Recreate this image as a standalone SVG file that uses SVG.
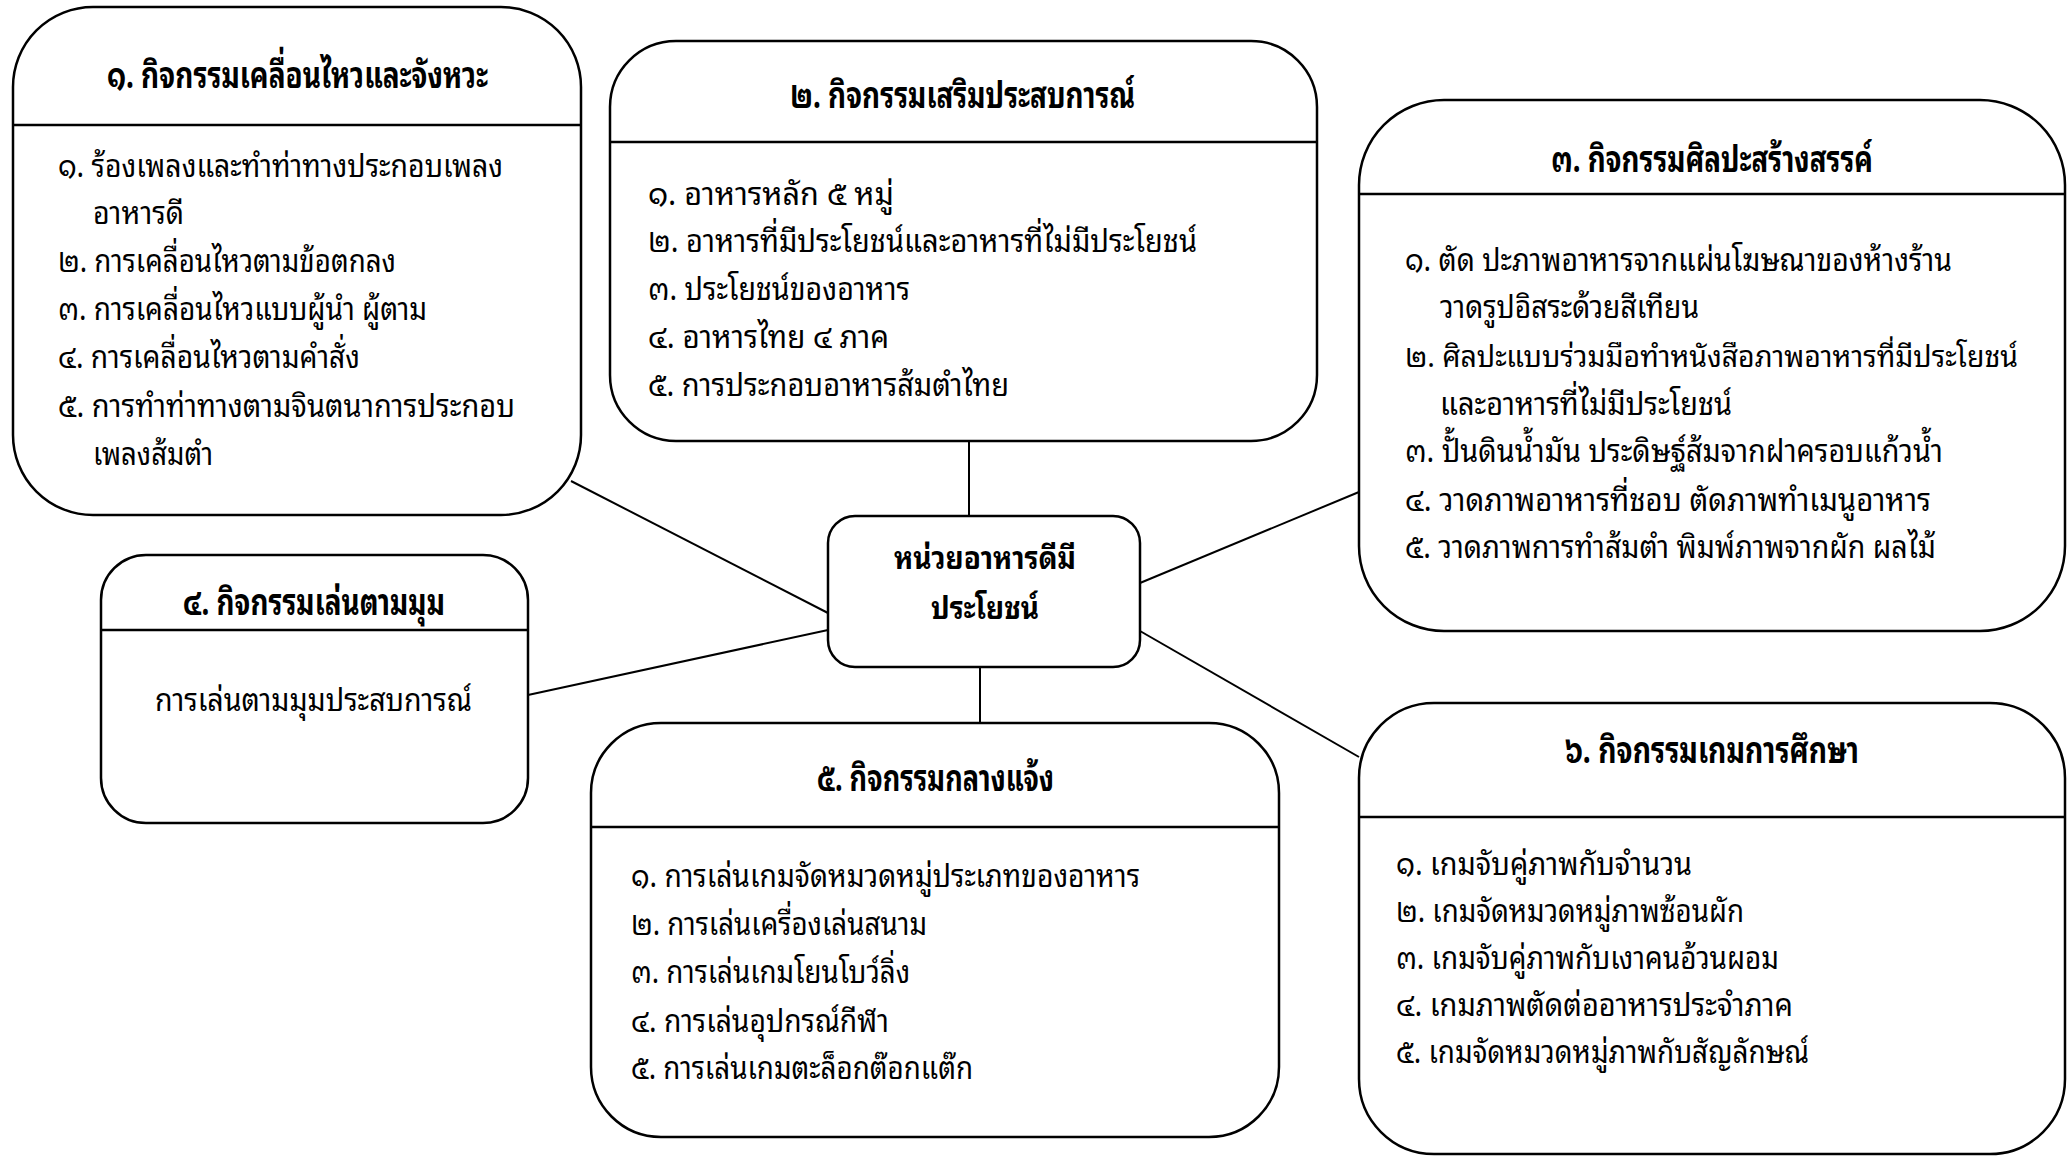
<svg xmlns="http://www.w3.org/2000/svg" width="2067" height="1156" viewBox="0 0 2067 1156">
<style>
.box{fill:#fff;stroke:#000;stroke-width:2.5}
.div{stroke:#000;stroke-width:2.5}
.con line{stroke:#000;stroke-width:2}
text{font-family:"Noto Sans Thai Looped","Noto Sans Thai","Loma","Garuda","Noto Sans",sans-serif;fill:#000}
.t{font-size:37px;font-weight:bold}
.b{font-size:32px}
.c{font-size:32px;font-weight:bold}
</style>
<rect width="2067" height="1156" fill="#fff"/>
<g id="connectors" class="con">
<line x1="571" y1="481" x2="828" y2="613"/>
<line x1="528" y1="695" x2="828" y2="630"/>
<line x1="969" y1="441" x2="969" y2="516"/>
<line x1="980" y1="667" x2="980" y2="723"/>
<line x1="1140" y1="583" x2="1359" y2="492"/>
<line x1="1140" y1="631" x2="1359" y2="757"/>
</g>
<g id="node1">
<rect class="box" x="13" y="7" width="568" height="508" rx="80"/>
<line class="div" x1="13" y1="125" x2="581" y2="125"/>
<text class="t" x="107" y="88" textLength="381" lengthAdjust="spacingAndGlyphs">๑. กิจกรรมเคลื่อนไหวและจังหวะ</text>
<text class="b" x="58" y="177" textLength="445" lengthAdjust="spacingAndGlyphs">๑. ร้องเพลงและทำท่าทางประกอบเพลง</text>
<text class="b" x="93" y="224" textLength="91" lengthAdjust="spacingAndGlyphs">อาหารดี</text>
<text class="b" x="58" y="272" textLength="338" lengthAdjust="spacingAndGlyphs">๒. การเคลื่อนไหวตามข้อตกลง</text>
<text class="b" x="58" y="320" textLength="369" lengthAdjust="spacingAndGlyphs">๓. การเคลื่อนไหวแบบผู้นำ ผู้ตาม</text>
<text class="b" x="58" y="368" textLength="302" lengthAdjust="spacingAndGlyphs">๔. การเคลื่อนไหวตามคำสั่ง</text>
<text class="b" x="58" y="417" textLength="457" lengthAdjust="spacingAndGlyphs">๕. การทำท่าทางตามจินตนาการประกอบ</text>
<text class="b" x="93" y="465" textLength="120" lengthAdjust="spacingAndGlyphs">เพลงส้มตำ</text>
</g>
<g id="node2">
<rect class="box" x="610" y="41" width="707" height="400" rx="66"/>
<line class="div" x1="610" y1="142" x2="1317" y2="142"/>
<text class="t" x="790" y="108" textLength="345" lengthAdjust="spacingAndGlyphs">๒. กิจกรรมเสริมประสบการณ์</text>
<text class="b" x="648" y="205" textLength="246" lengthAdjust="spacingAndGlyphs">๑. อาหารหลัก ๕ หมู่</text>
<text class="b" x="648" y="252" textLength="549" lengthAdjust="spacingAndGlyphs">๒. อาหารที่มีประโยชน์และอาหารที่ไม่มีประโยชน์</text>
<text class="b" x="648" y="300" textLength="262" lengthAdjust="spacingAndGlyphs">๓. ประโยชน์ของอาหาร</text>
<text class="b" x="648" y="348" textLength="241" lengthAdjust="spacingAndGlyphs">๔. อาหารไทย ๔ ภาค</text>
<text class="b" x="648" y="396" textLength="361" lengthAdjust="spacingAndGlyphs">๕. การประกอบอาหารส้มตำไทย</text>
</g>
<g id="node3">
<rect class="box" x="1359" y="100" width="706" height="531" rx="85"/>
<line class="div" x1="1359" y1="194" x2="2065" y2="194"/>
<text class="t" x="1551" y="172" textLength="322" lengthAdjust="spacingAndGlyphs">๓. กิจกรรมศิลปะสร้างสรรค์</text>
<text class="b" x="1405" y="271" textLength="547" lengthAdjust="spacingAndGlyphs">๑. ตัด ปะภาพอาหารจากแผ่นโฆษณาของห้างร้าน</text>
<text class="b" x="1440" y="318" textLength="259" lengthAdjust="spacingAndGlyphs">วาดรูปอิสระด้วยสีเทียน</text>
<text class="b" x="1405" y="367" textLength="613" lengthAdjust="spacingAndGlyphs" style="font-size:29px">๒. ศิลปะแบบร่วมมือทำหนังสือภาพอาหารที่มีประโยชน์</text>
<text class="b" x="1440" y="415" textLength="292" lengthAdjust="spacingAndGlyphs">และอาหารที่ไม่มีประโยชน์</text>
<text class="b" x="1405" y="462" textLength="538" lengthAdjust="spacingAndGlyphs">๓. ปั้นดินน้ำมัน  ประดิษฐ์ส้มจากฝาครอบแก้วน้ำ</text>
<text class="b" x="1405" y="511" textLength="526" lengthAdjust="spacingAndGlyphs">๔. วาดภาพอาหารที่ชอบ  ตัดภาพทำเมนูอาหาร</text>
<text class="b" x="1405" y="558" textLength="531" lengthAdjust="spacingAndGlyphs">๕. วาดภาพการทำส้มตำ พิมพ์ภาพจากผัก ผลไม้</text>
</g>
<g id="node4">
<rect class="box" x="101" y="555" width="427" height="268" rx="45"/>
<line class="div" x1="101" y1="630" x2="528" y2="630"/>
<text class="t" x="183" y="615" textLength="262" lengthAdjust="spacingAndGlyphs">๔. กิจกรรมเล่นตามมุม</text>
<text class="b" x="155" y="711" textLength="317" lengthAdjust="spacingAndGlyphs">การเล่นตามมุมประสบการณ์</text>
</g>
<g id="node5">
<rect class="box" x="591" y="723" width="688" height="414" rx="70"/>
<line class="div" x1="591" y1="827" x2="1279" y2="827"/>
<text class="t" x="817" y="791" textLength="237" lengthAdjust="spacingAndGlyphs">๕. กิจกรรมกลางแจ้ง</text>
<text class="b" x="631" y="887" textLength="509" lengthAdjust="spacingAndGlyphs">๑. การเล่นเกมจัดหมวดหมู่ประเภทของอาหาร</text>
<text class="b" x="631" y="935" textLength="296" lengthAdjust="spacingAndGlyphs">๒. การเล่นเครื่องเล่นสนาม</text>
<text class="b" x="631" y="983" textLength="279" lengthAdjust="spacingAndGlyphs">๓. การเล่นเกมโยนโบว์ลิ่ง</text>
<text class="b" x="631" y="1032" textLength="258" lengthAdjust="spacingAndGlyphs">๔. การเล่นอุปกรณ์กีฬา</text>
<text class="b" x="631" y="1079" textLength="342" lengthAdjust="spacingAndGlyphs">๕. การเล่นเกมตะล็อกต๊อกแต๊ก</text>
</g>
<g id="node6">
<rect class="box" x="1359" y="703" width="706" height="451" rx="75"/>
<line class="div" x1="1359" y1="817" x2="2065" y2="817"/>
<text class="t" x="1565" y="763" textLength="294" lengthAdjust="spacingAndGlyphs">๖. กิจกรรมเกมการศึกษา</text>
<text class="b" x="1396" y="875" textLength="296" lengthAdjust="spacingAndGlyphs">๑. เกมจับคู่ภาพกับจำนวน</text>
<text class="b" x="1396" y="922" textLength="348" lengthAdjust="spacingAndGlyphs">๒. เกมจัดหมวดหมู่ภาพซ้อนผัก</text>
<text class="b" x="1396" y="969" textLength="383" lengthAdjust="spacingAndGlyphs">๓. เกมจับคู่ภาพกับเงาคนอ้วนผอม</text>
<text class="b" x="1396" y="1016" textLength="397" lengthAdjust="spacingAndGlyphs">๔. เกมภาพตัดต่ออาหารประจำภาค</text>
<text class="b" x="1396" y="1063" textLength="413" lengthAdjust="spacingAndGlyphs">๕. เกมจัดหมวดหมู่ภาพกับสัญลักษณ์</text>
</g>
<g id="center">
<rect class="box" x="828" y="516" width="312" height="151" rx="27"/>
<text class="c" x="894" y="569" textLength="182" lengthAdjust="spacingAndGlyphs">หน่วยอาหารดีมี</text>
<text class="c" x="931" y="619" textLength="108" lengthAdjust="spacingAndGlyphs">ประโยชน์</text>
</g>
</svg>
